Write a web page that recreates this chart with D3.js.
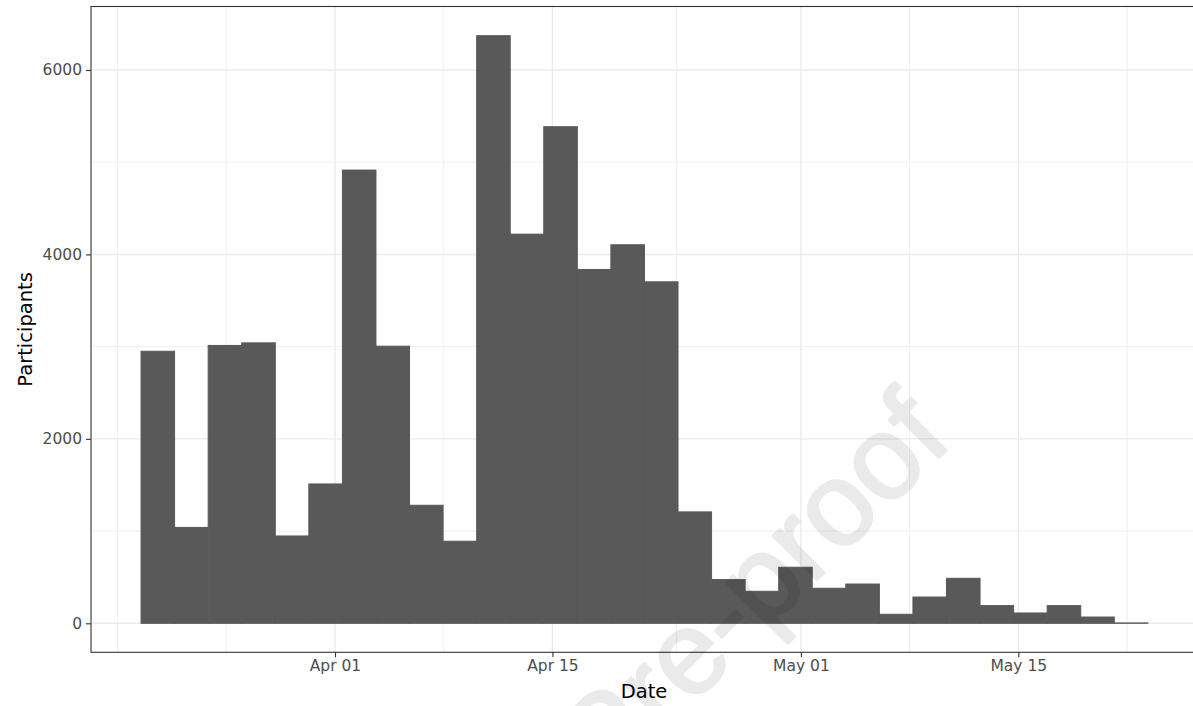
<!DOCTYPE html>
<html>
<head>
<meta charset="utf-8">
<script src="https://cdn.jsdelivr.net/npm/d3@7/dist/d3.min.js"></script>
<style>
  html, body { margin: 0; padding: 0; background: #fff; }
  svg { display: block; }
  text { font-family: "DejaVu Sans", sans-serif; }
</style>
</head>
<body>
<svg id="chart" width="1193" height="706"></svg>
<script>
// ---- data ----
const binStart = "2020-03-19T12:15:00Z";   // left edge of first bin
const binWidthDays = 2.161;                 // histogram bin width (30 bins)
const counts = [2950, 1040, 3013, 3041, 947, 1511, 4915, 3005, 1280, 890,
                6372, 4220, 5385, 3837, 4105, 3703, 1208, 474, 347, 608,
                380, 426, 98, 285, 488, 192, 112, 192, 68, 4];
const xTickDates = ["2020-04-01", "2020-04-15", "2020-05-01", "2020-05-15"];
const xTickLabels = ["Apr 01", "Apr 15", "May 01", "May 15"];
const xMinorDates = ["2020-03-18", "2020-03-25", "2020-04-08", "2020-04-23", "2020-05-08", "2020-05-22"];
const yTicks = [0, 2000, 4000, 6000];
const yMinor = [1000, 3000, 5000];
const xDomain = ["2020-03-16T06:55:00Z", "2020-05-26T12:07:00Z"];
const yDomain = [0, 6000];
const xTitle = "Date";
const yTitle = "Participants";
const watermark = "Journal Pre-proof";

// ---- layout ----
const W = 1193, H = 706;
const panel = { left: 91, right: 1197, top: 6.5, bottom: 652.3 };
const y0px = 623.3, y6000px = 70;

const svg = d3.select("#chart");
const x = d3.scaleUtc().domain(xDomain.map(d => new Date(d))).range([panel.left, panel.right]);
const y = d3.scaleLinear().domain(yDomain).range([y0px, y6000px]);

const bins = counts.map((c, i) => {
  const s = new Date(binStart).getTime() + i * binWidthDays * 864e5;
  return { x0: new Date(s), x1: new Date(s + binWidthDays * 864e5), count: c };
});

// panel background
svg.append("rect").attr("x", panel.left).attr("y", panel.top)
  .attr("width", panel.right - panel.left).attr("height", panel.bottom - panel.top)
  .attr("fill", "#fff");

const grid = svg.append("g");
// minor grid
grid.selectAll(".ymin").data(yMinor).join("line")
  .attr("x1", panel.left).attr("x2", panel.right)
  .attr("y1", d => y(d)).attr("y2", d => y(d))
  .attr("stroke", "#ebebeb").attr("stroke-width", 0.8);
grid.selectAll(".xmin").data(xMinorDates).join("line")
  .attr("x1", d => x(new Date(d))).attr("x2", d => x(new Date(d)))
  .attr("y1", panel.top).attr("y2", panel.bottom)
  .attr("stroke", "#ebebeb").attr("stroke-width", 0.8);
// major grid
grid.selectAll(".ymaj").data(yTicks).join("line")
  .attr("x1", panel.left).attr("x2", panel.right)
  .attr("y1", d => y(d)).attr("y2", d => y(d))
  .attr("stroke", "#ebebeb").attr("stroke-width", 1.4);
grid.selectAll(".xmaj").data(xTickDates).join("line")
  .attr("x1", d => x(new Date(d))).attr("x2", d => x(new Date(d)))
  .attr("y1", panel.top).attr("y2", panel.bottom)
  .attr("stroke", "#ebebeb").attr("stroke-width", 1.4);

// bars
svg.append("g").selectAll("rect").data(bins).join("rect")
  .attr("x", d => x(d.x0))
  .attr("width", d => x(d.x1) - x(d.x0))
  .attr("y", d => y(d.count))
  .attr("height", d => y(0) - y(d.count))
  .attr("fill", "#595959")
  .attr("stroke", "#595959").attr("stroke-width", 1.0);

// panel border
svg.append("rect").attr("x", panel.left).attr("y", panel.top)
  .attr("width", panel.right - panel.left).attr("height", panel.bottom - panel.top)
  .attr("fill", "none").attr("stroke", "#333333").attr("stroke-width", 1.1);

// y axis
const yAxis = d3.axisLeft(y).tickValues(yTicks).tickSize(5).tickPadding(4).tickFormat(d3.format("d"));
const gy = svg.append("g").attr("transform", `translate(${panel.left},0)`).call(yAxis);
gy.select(".domain").remove();
gy.selectAll(".tick line").attr("stroke", "#333333").attr("stroke-width", 1.1);
gy.selectAll(".tick text").attr("fill", "#4d4d4d").style("font-size", "15.5px")
  .style("font-family", "'DejaVu Sans', sans-serif");

// x axis
const xAxis = d3.axisBottom(x).tickValues(xTickDates.map(d => new Date(d)))
  .tickSize(5).tickPadding(3)
  .tickFormat((d, i) => xTickLabels[i]);
const gx = svg.append("g").attr("transform", `translate(0,${panel.bottom})`).call(xAxis);
gx.select(".domain").remove();
gx.selectAll(".tick line").attr("stroke", "#333333").attr("stroke-width", 1.1);
gx.selectAll(".tick text").attr("fill", "#4d4d4d").style("font-size", "15.5px")
  .style("font-family", "'DejaVu Sans', sans-serif");

// axis titles
svg.append("text").attr("x", (panel.left + panel.right) / 2).attr("y", 698)
  .attr("text-anchor", "middle").attr("fill", "#000")
  .style("font-size", "19.5px").text(xTitle);
svg.append("text").attr("transform", `translate(32,${(panel.top + panel.bottom) / 2}) rotate(-90)`)
  .attr("text-anchor", "middle").attr("fill", "#000")
  .style("font-size", "19.5px").text(yTitle);

// watermark (drawn as one translucent layer)
svg.append("g").attr("opacity", 0.08)
  .append("text").attr("transform", "translate(955,442) rotate(-45)")
  .attr("text-anchor", "end").attr("fill", "#000")
  .attr("stroke", "#000").attr("stroke-width", 2.5).attr("stroke-linejoin", "round")
  .style("font-family", "'Liberation Sans', Arial, sans-serif")
  .style("font-size", "118px").text(watermark);
</script>
</body>
</html>
